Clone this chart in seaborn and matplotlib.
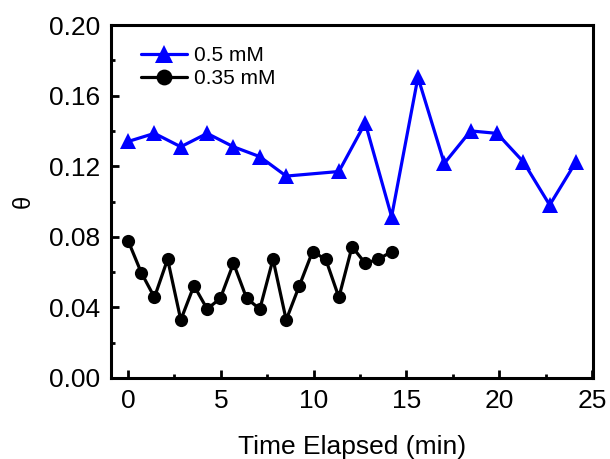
import numpy as np
import pandas as pd
import matplotlib
matplotlib.use("Agg")
import matplotlib.pyplot as plt
from matplotlib.ticker import MultipleLocator
import seaborn as sns

# 0.5 mM series (time in min, coverage theta)
t_05 = [0.0, 1.42, 2.84, 4.26, 5.68, 7.10, 8.52, 11.36, 12.78, 14.20,
        15.62, 17.04, 18.46, 19.88, 21.30, 22.72, 24.14]
theta_05 = [0.134, 0.1386, 0.131, 0.1386, 0.131, 0.1254, 0.1144, 0.117, 0.1445, 0.0914,
            0.1704, 0.1216, 0.140, 0.1386, 0.1225, 0.098, 0.1225]

# 0.35 mM series
t_035 = [0.0, 0.71, 1.42, 2.13, 2.84, 3.55, 4.26, 4.97, 5.68, 6.39, 7.10,
         7.81, 8.52, 9.23, 9.94, 10.65, 11.36, 12.07, 12.78, 13.49, 14.20]
theta_035 = [0.0778, 0.0597, 0.0457, 0.0673, 0.0329, 0.0523, 0.0391, 0.0451, 0.065, 0.0451, 0.0391,
             0.0673, 0.0329, 0.0523, 0.0716, 0.0673, 0.0457, 0.0744, 0.065, 0.0673, 0.0716]

labels = ["0.5 mM", "0.35 mM"]

sns.set_theme(style="ticks")
plt.rcParams["font.family"] = ["Liberation Sans", "DejaVu Sans"]
plt.rcParams["text.color"] = "black"
plt.rcParams["axes.labelcolor"] = "black"

df = pd.concat([
    pd.DataFrame({"t": t_05, "theta": theta_05, "series": labels[0]}),
    pd.DataFrame({"t": t_035, "theta": theta_035, "series": labels[1]}),
])

fig = plt.figure(figsize=(6.1, 4.59), dpi=100)
ax = fig.add_axes([0.182, 0.1765, 0.790, 0.769])

sns.lineplot(data=df[df.series == labels[0]], x="t", y="theta", ax=ax,
             color="#0000ff", marker="^", markersize=11, markeredgewidth=0,
             linewidth=2.3, sort=False, legend=False)
sns.lineplot(data=df[df.series == labels[1]], x="t", y="theta", ax=ax,
             color="black", marker="o", markersize=9.5, markeredgewidth=0,
             linewidth=2.3, sort=False, legend=False)

ax.set_xlim(-0.92, 25.05)
ax.set_ylim(0.0, 0.20)
ax.xaxis.set_major_locator(MultipleLocator(5))
ax.xaxis.set_minor_locator(MultipleLocator(2.5))
ax.yaxis.set_major_locator(MultipleLocator(0.04))
ax.yaxis.set_minor_locator(MultipleLocator(0.02))
ax.yaxis.set_major_formatter(matplotlib.ticker.FormatStrFormatter("%.2f"))

for s in ax.spines.values():
    s.set_visible(True)
    s.set_linewidth(2.2)
    s.set_color("black")
ax.tick_params(which="major", direction="in", length=6, width=2, labelsize=19,
               colors="black", labelcolor="black", pad=8)
ax.tick_params(which="minor", direction="in", length=3, width=2, colors="black")

ax.set_xlabel("Time Elapsed (min)", fontsize=19, labelpad=16)
ax.set_ylabel("θ", fontsize=17, labelpad=10)

leg = ax.legend(handles=ax.get_lines()[:2], labels=labels,
                loc="upper left", frameon=False, fontsize=15, markerscale=1.2,
                handlelength=2.2, handletextpad=0.3, labelspacing=0.2,
                borderaxespad=0.6, bbox_to_anchor=(0.02, 1.0))
for txt in leg.get_texts():
    txt.set_color("black")

fig.savefig("out.png", dpi=100)
